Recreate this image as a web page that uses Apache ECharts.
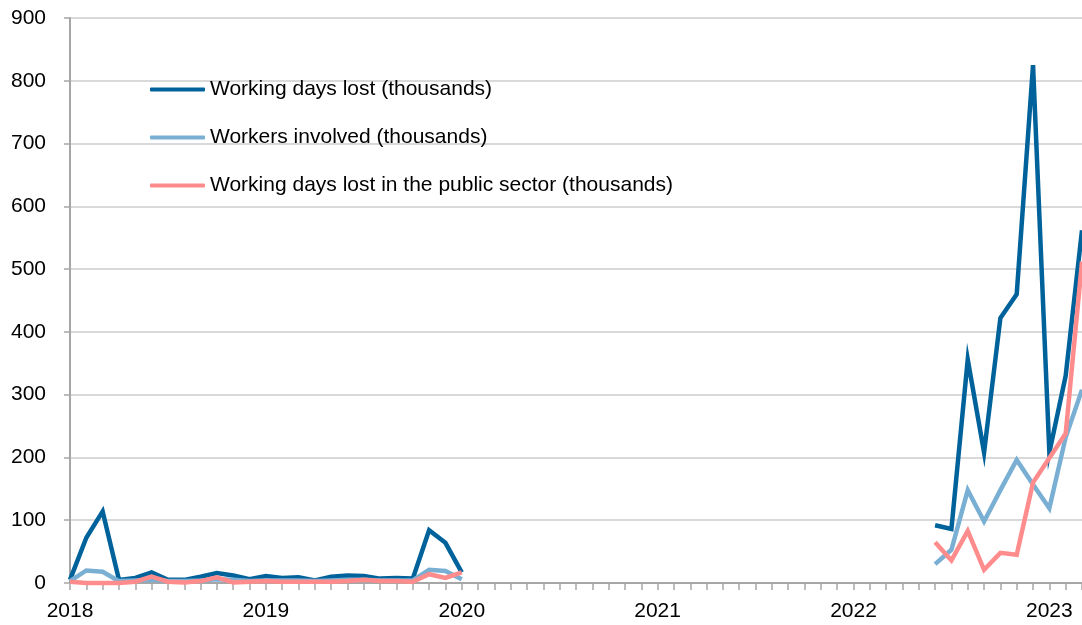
<!DOCTYPE html>
<html>
<head>
<meta charset="utf-8">
<script src="https://cdn.jsdelivr.net/npm/echarts@6/dist/echarts.min.js"></script>
<style>
html,body{margin:0;padding:0;background:#fff;}
#chart{width:1082px;height:625px;}
</style>
</head>
<body>
<div id="chart"></div>
<script>
// Monthly categories Jan 2018 .. Mar 2023
const months = [];
for (let y = 2018; y <= 2023; y++) {
  for (let m = 1; m <= 12; m++) {
    if (y === 2023 && m > 3) break;
    months.push(y + '-' + String(m).padStart(2, '0'));
  }
}

const seriesNames = [
  'Working days lost (thousands)',
  'Workers involved (thousands)',
  'Working days lost in the public sector (thousands)'
];

// Jan 2018 .. Jan 2020 (25 months)
const daysLost2018 = [5,72,114,5,8,17,5,5,10,16,12,6, 11,8,9,4,10,12,11,7,8,7,84,64, 17];
const workers2018  = [3,20,18,3,4,5,3,3,4,6,5,3, 4,4,4,3,4,5,5,4,4,4,21,19, 6];
const public2018   = [2,0,0,0,2,10,2,1,3,9,1,2, 3,2,2,2,2,3,5,3,3,2,14,8, 17];

// Jun 2022 .. Mar 2023 (10 months)
const daysLost2022 = [92,86,356,208,422,460,825,208,330,562];
const workers2022  = [30,53,148,98,148,196,157,119,232,308];
const public2022   = [65,36,83,21,48,45,160,199,238,512];

const yTicks = [0,100,200,300,400,500,600,700,800,900];

function buildSeries(early, late) {
  const out = new Array(months.length).fill(null);
  const s1 = months.indexOf('2018-01');
  early.forEach((v, i) => { out[s1 + i] = v; });
  const s2 = months.indexOf('2022-06');
  late.forEach((v, i) => { out[s2 + i] = v; });
  return out;
}

const colors = ['#00629B', '#7AAFD4', '#FF8C8C'];
const dataSets = [
  buildSeries(daysLost2018, daysLost2022),
  buildSeries(workers2018, workers2022),
  buildSeries(public2018, public2022)
];

const FONT = 'Liberation Sans, Arial, sans-serif';

const chart = echarts.init(document.getElementById('chart'), null, {renderer: 'canvas'});
chart.setOption({
  animation: false,
  backgroundColor: '#ffffff',
  grid: {left: 70, right: -4, top: 18, bottom: 42, containLabel: false},
  legend: {
    orient: 'vertical',
    left: 150,
    top: 79,
    padding: 0,
    itemWidth: 55,
    itemHeight: 4,
    itemGap: 27,
    icon: 'roundRect',
    textStyle: {fontFamily: FONT, fontSize: 21, color: '#000'},
    data: seriesNames
  },
  xAxis: {
    type: 'category',
    data: months,
    boundaryGap: false,
    axisLine: {show: true, lineStyle: {color: '#A6A6A6', width: 2}},
    axisTick: {show: true, interval: 0, length: 7, lineStyle: {color: '#A6A6A6', width: 1.5}},
    axisLabel: {
      interval: function (idx, val) { return val.endsWith('-01'); },
      formatter: function (val) { return val.slice(0, 4); },
      fontFamily: FONT, fontSize: 21, color: '#000', margin: 18
    },
    splitLine: {show: false}
  },
  yAxis: {
    type: 'value',
    min: yTicks[0],
    max: yTicks[yTicks.length - 1],
    interval: 100,
    axisLine: {show: true, lineStyle: {color: '#A6A6A6', width: 2}},
    axisTick: {show: true, length: 6, lineStyle: {color: '#A6A6A6', width: 1.5}},
    axisLabel: {fontFamily: FONT, fontSize: 21, color: '#000', margin: 24},
    splitLine: {show: true, lineStyle: {color: '#D9D9D9', width: 2}}
  },
  series: seriesNames.map((name, i) => ({
    name: name,
    type: 'line',
    data: dataSets[i],
    showSymbol: false,
    symbol: 'none',
    connectNulls: false,
    clip: false,
    color: colors[i],
    lineStyle: {color: colors[i], width: 4.5, join: 'miter'},
    itemStyle: {color: colors[i]},
    z: 2 + i
  }))
});
</script>
</body>
</html>
